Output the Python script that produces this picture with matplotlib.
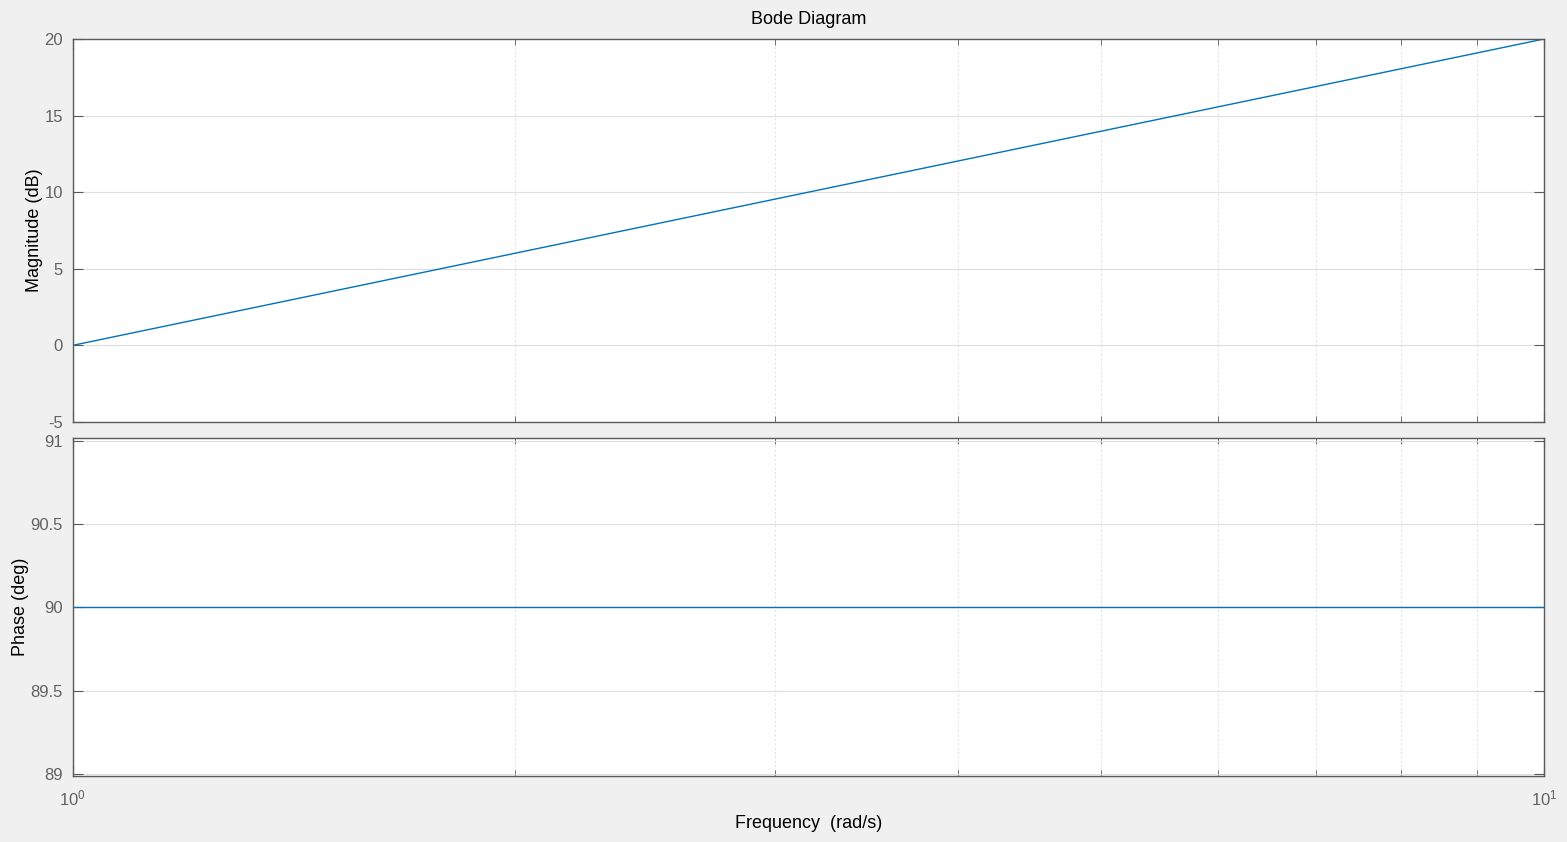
import matplotlib
matplotlib.use("Agg")
import matplotlib.pyplot as plt
from matplotlib.ticker import LogLocator, NullFormatter, FixedLocator

# data (endpoints of straight lines on the log axis)
freq = [1.0, 10.0]
mag_db = [0.0, 20.0]
phase_deg = [90.0, 90.0]

mag_ticks = [-5, 0, 5, 10, 15, 20]
phase_ticks = [89, 89.5, 90, 90.5, 91]
phase_ticklabels = ["89", "89.5", "90", "90.5", "91"]

plt.rcParams["font.family"] = ["Liberation Sans", "DejaVu Sans"]
plt.rcParams["axes.unicode_minus"] = False
plt.rcParams["mathtext.fontset"] = "custom"
plt.rcParams["mathtext.rm"] = "Liberation Sans"
plt.rcParams["mathtext.it"] = "Liberation Sans"
plt.rcParams["mathtext.bf"] = "Liberation Sans:bold"
BG = "#f0f0f0"
AX = "#5a5a5a"
TXT = "#626262"
LINE = "#0072bd"
FS_TICK = 12
FS_LAB = 13

fig = plt.figure(figsize=(15.67, 8.42), dpi=100, facecolor=BG)
W, H = 1567, 842
x0, x1 = 72.5 / W, 1544 / W
ax_m = fig.add_axes([x0, 1 - 422 / H, x1 - x0, (422 - 39) / H])
ax_p = fig.add_axes([x0, 1 - 776 / H, x1 - x0, (776 - 438) / H])

for ax in (ax_m, ax_p):
    ax.set_xscale("log")
    ax.set_xlim(1, 10)
    ax.xaxis.set_major_locator(LogLocator(base=10))
    ax.xaxis.set_minor_locator(LogLocator(base=10, subs=range(2, 10)))
    ax.xaxis.set_minor_formatter(NullFormatter())
    ax.grid(True, which="major", color="#dedede", lw=0.8)
    ax.grid(True, which="minor", axis="x", color="#e4e4e4", lw=0.8, ls=(0, (2, 2)))
    ax.set_axisbelow(True)
    for s in ax.spines.values():
        s.set_color(AX)
        s.set_linewidth(1.0)
    ax.tick_params(which="both", direction="in", top=True, right=True,
                   color=AX, labelcolor=TXT, labelsize=FS_TICK)
    ax.tick_params(which="major", length=7)
    ax.tick_params(which="minor", length=4)
    ax.tick_params(axis="y", pad=7)

ax_m.plot(freq, mag_db, color=LINE, lw=1.0)
ax_m.set_ylim(-5, 20)
ax_m.yaxis.set_major_locator(FixedLocator(mag_ticks))
ax_m.tick_params(axis="x", which="both", labelbottom=False)
ax_m.set_ylabel("Magnitude (dB)", fontsize=FS_LAB, color="black", labelpad=1)
ax_m.set_title("Bode Diagram", fontsize=FS_LAB, color="black", pad=11)

ax_p.plot(freq, phase_deg, color=LINE, lw=1.0)
ax_p.set_ylim(88.988, 91.018)
ax_p.set_yticks(phase_ticks)
ax_p.set_yticklabels(phase_ticklabels)
ax_p.set_ylabel("Phase (deg)", fontsize=FS_LAB, color="black", labelpad=1)
ax_p.set_xlabel("Frequency  (rad/s)", fontsize=FS_LAB, color="black", labelpad=5)
ax_p.tick_params(axis="x", which="major", pad=9)

fig.savefig("out.png", dpi=100, facecolor=BG)
